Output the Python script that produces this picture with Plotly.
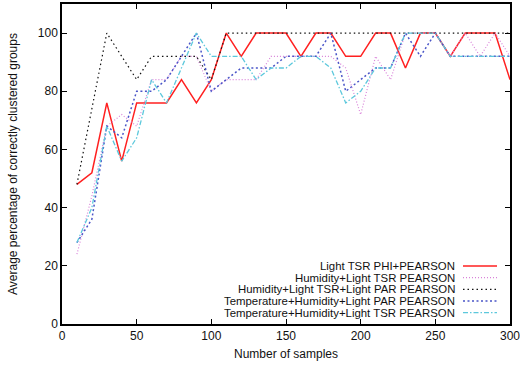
import plotly.graph_objects as go

samples = list(range(10, 310, 10))

light_tsr_phi = [48, 52, 76, 56, 76, 76, 76, 84, 76, 84,
                 100, 92, 100, 100, 100, 92, 100, 100, 92, 92,
                 100, 100, 88, 100, 100, 92, 100, 100, 100, 84]
hum_light_tsr = [24, 44, 68, 72, 68, 84, 84, 92, 92, 80,
                 84, 84, 84, 92, 92, 92, 92, 92, 88, 72,
                 92, 84, 100, 100, 100, 92, 100, 92, 100, 92]
hum_tsr_par = [48, 74, 100, 92, 84, 92, 92, 92, 92, 84,
               100, 100, 100, 100, 100, 100, 100, 100, 100, 100,
               100, 100, 100, 100, 100, 100, 100, 100, 100, 100]
temp_hum_par = [28, 36, 68, 64, 80, 80, 84, 92, 100, 80,
                84, 88, 88, 88, 92, 92, 92, 100, 80, 84,
                88, 88, 100, 92, 100, 92, 92, 92, 92, 92]
temp_hum_tsr = [28, 40, 68, 56, 64, 84, 76, 88, 100, 92,
                92, 92, 84, 88, 88, 92, 92, 88, 76, 80,
                88, 88, 100, 100, 100, 92, 92, 92, 92, 92]

x_ticks = [0, 50, 100, 150, 200, 250, 300]
y_ticks = [0, 20, 40, 60, 80, 100]

names = ["Light TSR PHI+PEARSON",
         "Humidity+Light TSR PEARSON",
         "Humidity+Light TSR+Light PAR PEARSON",
         "Temperature+Humidity+Light PAR PEARSON",
         "Temperature+Humidity+Light TSR PEARSON"]
series = [light_tsr_phi, hum_light_tsr, hum_tsr_par, temp_hum_par, temp_hum_tsr]
colors = ["#ff2020", "#d982d9", "#111111", "#4a55c8", "#5cc8dc"]
dashes = ["solid", "1px,2px", "1.5px,3px", "2px,2.5px", "5px,2px,1.5px,2px"]
widths = [1.5, 1.2, 1.2, 1.5, 1.3]

fig = go.Figure()
for name, ys, c, d, w in zip(names, series, colors, dashes, widths):
    fig.add_trace(go.Scatter(x=samples, y=ys, mode="lines", name=name,
                             line=dict(color=c, dash=d, width=w),
                             showlegend=False))

L, R, T, B = 62, 10, 4, 41
W, H = 520, 365
pw, ph = W - L - R, H - T - B

def px_x(p):
    return (p - L) / pw

def px_y(p):
    return (H - B - p) / ph

rows = [266, 277.7, 289.3, 301, 312.7]
for name, c, d, w, ry in zip(names, colors, dashes, widths, rows):
    fig.add_annotation(x=px_x(456), y=px_y(ry), xref="paper", yref="paper",
                       text=name, showarrow=False, xanchor="right", yanchor="middle",
                       font=dict(size=11.4, color="#111111"), borderpad=0)
    fig.add_shape(type="line", xref="paper", yref="paper",
                  x0=px_x(463), x1=px_x(497), y0=px_y(ry), y1=px_y(ry),
                  line=dict(color=c, dash=d, width=w))

fig.add_annotation(x=px_x(286), y=px_y(354), xref="paper", yref="paper",
                   text="Number of samples", showarrow=False,
                   xanchor="center", yanchor="middle",
                   font=dict(size=12, color="#111111"))
fig.add_annotation(x=px_x(13), y=px_y(164), xref="paper", yref="paper",
                   text="Average percentage of correctly clustered groups",
                   showarrow=False, textangle=-90,
                   xanchor="center", yanchor="middle",
                   font=dict(size=12, color="#111111"))

axis_common = dict(showline=True, linecolor="black", linewidth=1.5, mirror="ticks",
                   ticks="inside", ticklen=5, tickcolor="black", tickwidth=1,
                   showgrid=False, zeroline=False, automargin=False,
                   ticklabeloverflow="allow",
                   tickfont=dict(size=12, color="#111111"))

fig.update_xaxes(range=[0, 300], tickvals=x_ticks, **axis_common)
fig.update_yaxes(range=[0, 110], tickvals=y_ticks, **axis_common)

fig.update_layout(width=W, height=H, margin=dict(l=L, r=R, t=T, b=B, autoexpand=False),
                  plot_bgcolor="white", paper_bgcolor="white",
                  font=dict(family="Liberation Sans, Arial, sans-serif", size=12),
                  showlegend=False)

fig.write_html("out.html", config={"displayModeBar": False},
               post_script="document.body.style.margin='0';document.body.style.overflow='hidden';")
